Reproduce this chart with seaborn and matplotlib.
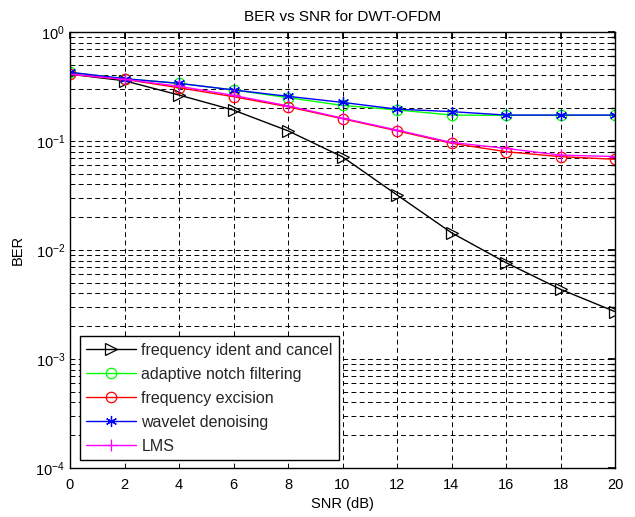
import matplotlib
matplotlib.use("Agg")
import matplotlib.pyplot as plt
import seaborn as sns
import numpy as np
import pandas as pd
from matplotlib.ticker import LogLocator, NullFormatter, MultipleLocator

snr = [0, 2, 4, 6, 8, 10, 12, 14, 16, 18, 20]
ber_ident_cancel = [0.41, 0.357, 0.264, 0.192, 0.124, 0.0715, 0.032, 0.0144, 0.00765, 0.00436, 0.00272]
ber_notch = [0.427, 0.373, 0.338, 0.294, 0.25, 0.212, 0.193, 0.173, 0.172, 0.172, 0.172]
ber_excision = [0.41, 0.368, 0.308, 0.255, 0.206, 0.16, 0.124, 0.0953, 0.0798, 0.0718, 0.068]
ber_wavelet = [0.427, 0.373, 0.338, 0.294, 0.257, 0.226, 0.196, 0.186, 0.173, 0.173, 0.173]
ber_lms = [0.41, 0.368, 0.318, 0.262, 0.21, 0.162, 0.126, 0.097, 0.0855, 0.0742, 0.072]

labels = ["frequency ident and cancel", "adaptive notch filtering",
          "frequency excision", "wavelet denoising", "LMS"]
series = [ber_ident_cancel, ber_notch, ber_excision, ber_wavelet, ber_lms]
colors = ["black", "#00ff00", "red", "blue", "magenta"]
markers = [">", "o", "o", (6, 2, 0), "+"]

title = "BER vs SNR for DWT-OFDM"
xlabel = "SNR (dB)"
ylabel = "BER"

sns.set_theme(style="white")
plt.rcParams['font.family'] = ['Liberation Sans', 'DejaVu Sans']
plt.rcParams['mathtext.fontset'] = 'custom'
plt.rcParams['mathtext.rm'] = 'Liberation Sans'
plt.rcParams['mathtext.it'] = 'Liberation Sans'

fig = plt.figure(figsize=(6.35, 5.17), dpi=100)
ax = fig.add_axes([70/635, 49/517, 545/635, 436/517])

sizes = {">": 8, "o": 7.5, "+": 8}
for lab, vals, col, mk in zip(labels, series, colors, markers):
    df = pd.DataFrame({"snr": snr, "ber": vals})
    hollow = mk in ["o", ">"]
    sns.lineplot(data=df, x="snr", y="ber", ax=ax, color=col, label=lab,
                 marker=mk, markersize=sizes.get(mk, 8),
                 markerfacecolor="none" if hollow else col,
                 markeredgecolor=col, markeredgewidth=0.9,
                 linewidth=1.0, errorbar=None)

ax.set_yscale("log")
ax.set_xlim(0, 20)
ax.set_ylim(1e-4, 1)
ax.xaxis.set_major_locator(MultipleLocator(2))
ax.yaxis.set_major_locator(LogLocator(base=10, numticks=10))
ax.yaxis.set_minor_locator(LogLocator(base=10, subs=np.arange(2, 10), numticks=10))
ax.yaxis.set_minor_formatter(NullFormatter())

ax.grid(True, which="major", axis="both", color="black", linestyle=(0, (5, 3.5)), linewidth=0.7)
ax.grid(True, which="minor", axis="y", color="black", linestyle=(0, (5, 3.5)), linewidth=0.7)

for sp in ax.spines.values():
    sp.set_color("black")
    sp.set_linewidth(1.0)
ax.tick_params(axis="both", which="both", direction="in", top=True, right=True,
               colors="black", labelsize=10.5)
ax.tick_params(which="major", length=5)
ax.tick_params(which="minor", length=3)
ax.tick_params(axis="x", pad=7)

ax.set_title(title, fontsize=11, color="black", pad=8)
ax.set_xlabel(xlabel, fontsize=10.5, color="black", labelpad=4)
ax.set_ylabel(ylabel, fontsize=10.5, color="black", labelpad=8)

leg = ax.legend(loc="lower left", bbox_to_anchor=(10/545, 8/436), fontsize=11.5,
                frameon=True, fancybox=False, framealpha=1, edgecolor="black",
                handlelength=3.1, labelspacing=0.56, borderpad=0.4, handletextpad=0.35,
                borderaxespad=0)
leg.get_frame().set_linewidth(1.0)

fig.savefig("out.png", dpi=100, facecolor="white")
